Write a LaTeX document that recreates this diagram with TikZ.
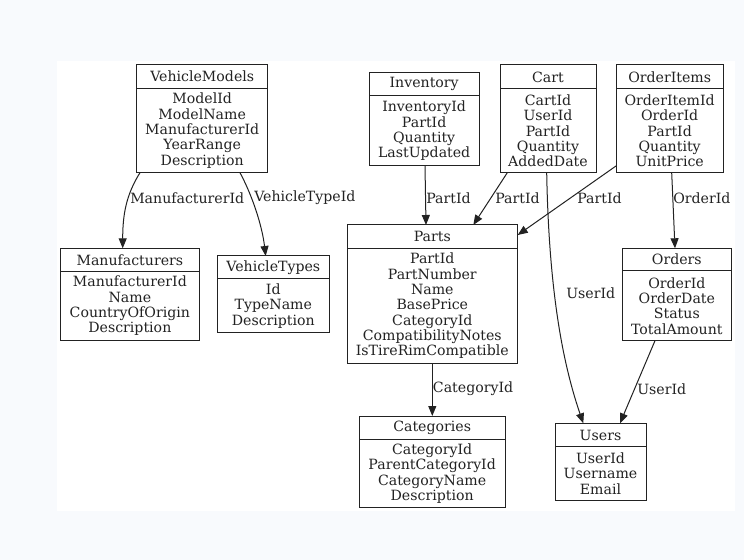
\documentclass[tikz,border=0pt]{standalone}
\usepackage{fontspec}
\setmainfont{DejaVu Serif}
\usetikzlibrary{arrows.meta,calc}
\definecolor{bgc}{RGB}{248,250,253}
\definecolor{ink}{RGB}{34,34,34}
\tikzset{
  ebox/.style={draw=ink, line width=0.75pt, inner sep=0pt, outer sep=0pt, fill=white},
  sepl/.style={draw=ink, line width=0.75pt},
  etext/.style={text=ink, inner sep=0pt, align=center, font=\fontsize{10.6}{11.5}\selectfont},
  elabel/.style={text=ink, inner sep=0pt, anchor=west, font=\fontsize{10.6}{11.5}\selectfont},
  rel/.style={draw=ink, line width=0.75pt, -{Triangle[length=7.5pt,width=6pt]}},
}
\newcommand\ent[8]{%
  \node[ebox, anchor=north west, minimum width={(#4-#2)*0.75pt}, minimum height={(#6-#3)*0.75pt}] (#1) at (#2,#3) {};
  \draw[sepl] (#1.north west |- {(0,#5)}) -- (#1.north east |- {(0,#5)});
  \node[etext] (#1-t) at ({(#2+#4)/2},{(#3+#5)/2}) {#7};
  \node[etext] (#1-f) at ({(#2+#4)/2},{(#5+#6)/2}) {#8};
}
\begin{document}
\begin{tikzpicture}[x=0.75pt,y=-0.75pt]
\path[fill=bgc] (0,0) rectangle (744,560);
\fill[white] (57,61) rectangle (735,511);
\useasboundingbox (0,0) rectangle (744,560);

\ent{vm}{136.7}{65}{267.7}{88.3}{172.7}{VehicleModels}{ModelId\\ModelName\\ManufacturerId\\YearRange\\Description}
\ent{mf}{60.7}{248.3}{199}{271.7}{340}{Manufacturers}{ManufacturerId\\Name\\CountryOfOrigin\\Description}
\ent{vt}{217.3}{256}{329.3}{279}{332.7}{VehicleTypes}{Id\\TypeName\\Description}
\ent{inv}{369}{72.7}{479.3}{96}{165.7}{Inventory}{InventoryId\\PartId\\Quantity\\LastUpdated}
\ent{cart}{500}{65}{596}{89}{172.7}{Cart}{CartId\\UserId\\PartId\\Quantity\\AddedDate}
\ent{oi}{616}{65}{723.3}{89}{172.7}{OrderItems}{OrderItemId\\OrderId\\PartId\\Quantity\\UnitPrice}
\ent{parts}{347.3}{225}{517.3}{248.3}{363.3}{Parts}{PartId\\PartNumber\\Name\\BasePrice\\CategoryId\\CompatibilityNotes\\IsTireRimCompatible}
\ent{ord}{622.7}{248.3}{731}{271}{340.7}{Orders}{OrderId\\OrderDate\\Status\\TotalAmount}
\ent{cat}{359.3}{416}{505}{439.3}{507.7}{Categories}{CategoryId\\ParentCategoryId\\CategoryName\\Description}
\ent{usr}{555}{423.3}{646}{446.7}{500.7}{Users}{UserId\\Username\\Email}

% connectors
\draw[rel] ($(vm.south west)+(3.3,0)$) .. controls (126,195) and (122.7,215) .. ($(mf.north west)+(62,0)$);
\draw[rel] ($(vm.south west)+(103.3,0)$) .. controls (252,195) and (262,225) .. ($(vt.north west)+(48.4,0)$);
\draw[rel] ($(inv.south west)+(56,0)$) -- ($(parts.north west)+(78.7,0)$);
\draw[rel] ($(cart.south west)+(7.3,0)$) -- ($(parts.north west)+(126,0)$);
\draw[rel] ($(oi.south west)+(0,-6.7)$) -- ($(parts.north east)+(0.4,10)$);
\draw[rel] ($(oi.south west)+(55.7,0)$) -- ($(ord.north west)+(52.3,0)$);
\draw[rel] ($(cart.south west)+(46.7,0)$) .. controls (549,300) and (565,370) .. ($(usr.north west)+(28.3,0)$);
\draw[rel] ($(ord.south west)+(32.3,0)$) -- ($(usr.north west)+(65,0)$);
\draw[rel] ($(parts.south west)+(85,0)$) -- ($(cat.north west)+(73,0)$);

% labels
\node[elabel] (l1) at (130,198) {ManufacturerId};
\node[elabel] (l2) at (254,198) {VehicleTypeId};
\node[elabel] (l3) at (426,198) {PartId};
\node[elabel] (l4) at (495,198) {PartId};
\node[elabel] (l5) at (577,198) {PartId};
\node[elabel] (l6) at (673,198) {OrderId};
\node[elabel] (l7) at (566,293) {UserId};
\node[elabel] (l8) at (637,389) {UserId};
\node[elabel] (l9) at (432.7,389) {CategoryId};
\end{tikzpicture}
\end{document}
